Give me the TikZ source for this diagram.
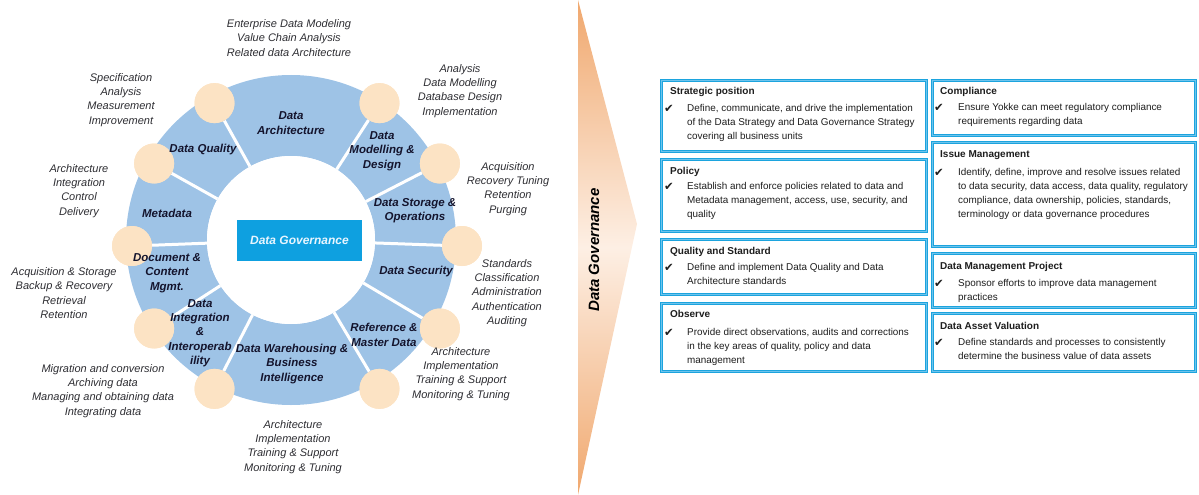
\documentclass[tikz,border=0pt]{standalone}
\usepackage{fontspec}
\setmainfont{Liberation Sans}
\newfontfamily\symfont{DejaVu Sans}
\definecolor{ringblue}{RGB}{158,195,230}
\definecolor{peach}{RGB}{252,227,196}
\definecolor{govblue}{RGB}{14,160,224}
\definecolor{govtext}{RGB}{232,245,255}
\definecolor{boxblue}{RGB}{28,164,222}
\definecolor{boxinner}{RGB}{110,195,236}
\definecolor{chevdark}{RGB}{240,168,110}
\definecolor{chevlight}{RGB}{253,239,228}
\definecolor{desc}{RGB}{45,45,50}
\definecolor{seg}{RGB}{20,20,45}
\definecolor{bodytext}{RGB}{30,30,30}
\begin{document}
\begin{tikzpicture}[x=1pt,y=-1pt,
  ringshape/.style={circle,fill=ringblue,minimum size=330pt,inner sep=0pt},
  hubshape/.style={circle,fill=white,minimum size=168pt,inner sep=0pt},
  dot/.style={circle,fill=peach,minimum size=40pt,inner sep=0pt},
  spoke/.style={white,line width=3pt},
  govbox/.style={rectangle,fill=govblue,minimum width=125pt,minimum height=41pt,inner sep=0pt,
    text=govtext,font=\fontsize{12}{14}\selectfont\bfseries\itshape},
  desctext/.style={align=center,inner sep=0pt,text=desc,font=\fontsize{11}{14.3}\selectfont\itshape},
  segtext/.style={align=center,inner sep=0pt,text=seg,font=\fontsize{11.5}{14.3}\selectfont\bfseries\itshape},
  gbox/.style={rectangle,draw=boxblue,double=boxinner,double distance=0.4pt,line width=1.3pt,
    fill=white,inner sep=0pt,anchor=north west},
  ttl/.style={anchor=base west,inner sep=0pt,text=bodytext,font=\fontsize{10}{12}\selectfont\bfseries},
  tick/.style={anchor=base west,inner sep=0pt,text=bodytext,font=\fontsize{11.5}{12}\symfont},
  bodyt/.style={anchor=north west,align=left,inner sep=0pt,text=bodytext,font=\fontsize{9.9}{14}\selectfont},
  chevlabel/.style={rotate=90,inner sep=0pt,font=\fontsize{15}{18}\selectfont\bfseries\itshape}
]
\useasboundingbox (0,0) rectangle (1199,495);

% ---------------- wheel ----------------
\node[ringshape] (ring) at (291,240) {};
\node[hubshape] (hub) at (291,240) {};
\foreach \a in {0,30,60,120,150,180,210,240,300,330}
  \node[dot] (c\a) at ([shift={(\a:165)}]297,246) {};
\foreach \a in {0,30,60,120,150,180,210,240,300,330}
  \draw[spoke] (hub) -- (c\a);
\node[hubshape] at (hub.center) {};
\foreach \a in {0,30,60,120,150,180,210,240,300,330}
  \node[dot] at (c\a.center) {};
\node[govbox] (gov) at (299.5,240.5) {Data Governance};

% segment labels
\node[segtext] (sArch) at (291,123) {Data\\Architecture};
\node[segtext] (sMod) at (382,151) {Data\\Modelling \&\\Design};
\node[segtext] (sQual) at (203,150) {Data Quality};
\node[segtext] (sStor) at (415,211) {Data Storage \&\\Operations};
\node[segtext] (sMeta) at (167,213) {Metadata};
\node[segtext] (sDoc) at (167,273) {Document \&\\Content\\Mgmt.};
\node[segtext] (sSec) at (416,272) {Data Security};
\node[segtext] (sInt) at (200,333) {Data\\Integration\\\&\\Interoperab\\ility};
\node[segtext] (sDW) at (292,364) {Data Warehousing \&\\Business\\Intelligence};
\node[segtext] (sRef) at (384,335) {Reference \&\\Master Data};

% description labels
\node[desctext] (dArch) at (289,38) {Enterprise Data Modeling\\Value Chain Analysis\\Related data Architecture};
\node[desctext] (dQual) at (121,100) {Specification\\Analysis\\Measurement\\Improvement};
\node[desctext] (dMod) at (460,91) {Analysis\\Data Modelling\\Database Design\\Implementation};
\node[desctext] (dStor) at (508,189) {Acquisition\\Recovery Tuning\\Retention\\Purging};
\node[desctext] (dMeta) at (79,191) {Architecture\\Integration\\Control\\Delivery};
\node[desctext] (dDoc) at (64,293) {Acquisition \& Storage\\Backup \& Recovery\\Retrieval\\Retention};
\node[desctext] (dSec) at (507,293) {Standards\\Classification\\Administration\\Authentication\\Auditing};
\node[desctext] (dRef) at (461,374) {Architecture\\Implementation\\Training \& Support\\Monitoring \& Tuning};
\node[desctext] (dInt) at (103,391) {Migration and conversion\\Archiving data\\Managing and obtaining data\\Integrating data};
\node[desctext] (dDW) at (293,447) {Architecture\\Implementation\\Training \& Support\\Monitoring \& Tuning};

% ---------------- chevron ----------------
\shade[top color=chevdark,bottom color=chevdark,middle color=chevlight]
  (578,0) -- (637,224) -- (578,495) -- cycle;
\node[chevlabel] (chev) at (594,250) {Data Governance};

% ---------------- boxes ----------------
\node[gbox,minimum width=265pt,minimum height=71pt] (bSP) at (661,80) {};
\node[gbox,minimum width=265pt,minimum height=72pt] (bPol) at (661,159) {};
\node[gbox,minimum width=265pt,minimum height=55pt] (bQS) at (661,239) {};
\node[gbox,minimum width=265pt,minimum height=68pt] (bObs) at (661,303) {};
\node[gbox,minimum width=263pt,minimum height=55pt] (bComp) at (932,80) {};
\node[gbox,minimum width=263pt,minimum height=104pt] (bIss) at (932,142) {};
\node[gbox,minimum width=263pt,minimum height=54pt] (bDMP) at (932,253) {};
\node[gbox,minimum width=263pt,minimum height=58pt] (bDAV) at (932,313) {};

\node[ttl] (tSP) at (670,95) {Strategic position};
\node[tick] (kSP) at (664,112) {✔};
\node[bodyt] (xSP) at (687,103.8) {Define, communicate, and drive the implementation\\of the Data Strategy and Data Governance Strategy\\covering all business units};

\node[ttl] (tPol) at (670,174) {Policy};
\node[tick] (kPol) at (664,190) {✔};
\node[bodyt] (xPol) at (687,181.8) {Establish and enforce policies related to data and\\Metadata management, access, use, security, and\\quality};

\node[ttl] (tQS) at (670,254) {Quality and Standard};
\node[tick] (kQS) at (664,271) {✔};
\node[bodyt] (xQS) at (687,262.8) {Define and implement Data Quality and Data\\Architecture standards};

\node[ttl] (tObs) at (670,317) {Observe};
\node[tick] (kObs) at (664,336) {✔};
\node[bodyt] (xObs) at (687,327.8) {Provide direct observations, audits and corrections\\in the key areas of quality, policy and data\\management};

\node[ttl] (tComp) at (940,95) {Compliance};
\node[tick] (kComp) at (934,111) {✔};
\node[bodyt] (xComp) at (958,102.8) {Ensure Yokke can meet regulatory compliance\\requirements regarding data};

\node[ttl] (tIss) at (940,157) {Issue Management};
\node[tick] (kIss) at (934,176) {✔};
\node[bodyt] (xIss) at (958,167.8) {Identify, define, improve and resolve issues related\\to data security, data access, data quality, regulatory\\compliance, data ownership, policies, standards,\\terminology or data governance procedures};

\node[ttl] (tDMP) at (940,269) {Data Management Project};
\node[tick] (kDMP) at (934,287) {✔};
\node[bodyt] (xDMP) at (958,278.8) {Sponsor efforts to improve data management\\practices};

\node[ttl] (tDAV) at (940,329) {Data Asset Valuation};
\node[tick] (kDAV) at (934,346) {✔};
\node[bodyt] (xDAV) at (958,337.8) {Define standards and processes to consistently\\determine the business value of data assets};
\end{tikzpicture}
\end{document}
